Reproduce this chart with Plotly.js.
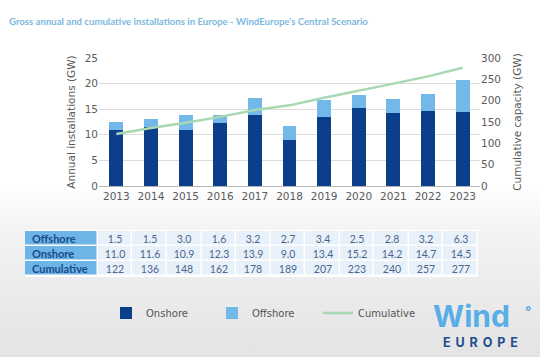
<!DOCTYPE html>
<html>
<head>
<meta charset="utf-8">
<script src="https://cdn.plot.ly/plotly-3.0.1.min.js"></script>
<style>
html,body{margin:0;padding:0;}
body{width:540px;height:357px;overflow:hidden;background:linear-gradient(to bottom,#ffffff 0%,#ffffff 52%,#f5f5f5 62%,#ececec 80%,#e4e4e4 100%);}
#chart{width:540px;height:357px;}
</style>
</head>
<body>
<div id="chart"></div>
<script>
const years = ['2013','2014','2015','2016','2017','2018','2019','2020','2021','2022','2023'];
const offshore = [1.5, 1.5, 3.0, 1.6, 3.2, 2.7, 3.4, 2.5, 2.8, 3.2, 6.3];
const onshore = [11.0, 11.6, 10.9, 12.3, 13.9, 9.0, 13.4, 15.2, 14.2, 14.7, 14.5];
const cumulative = [122, 136, 148, 162, 178, 189, 207, 223, 240, 257, 277];
const rowLabels = ['Offshore', 'Onshore', 'Cumulative'];

const W = 540, H = 357;
const px = v => v / W, py = v => 1 - v / H;

const cDark = '#0b3f8c', cLight = '#72b8e8', cLine = '#a8d8b2';
const labelFill = '#6db5e6', cellFill = '#e8f1fa';

// table grid built from the arrays
const labelW = 73, cellW = 34.6;
const colEdges = [0, labelW];
years.forEach((y, i) => colEdges.push(labelW + cellW * (i + 1)));
const rowStrings = [
  offshore.map(v => v.toFixed(1)),
  onshore.map(v => v.toFixed(1)),
  cumulative.map(v => String(v))
];
const tableZ = rowLabels.map(() => [1].concat(years.map(() => 0)));
const tableText = rowStrings.map(r => [''].concat(r));

const traces = [
  {type:'bar', name:'Onshore', x:years, y:onshore, marker:{color:cDark}, xaxis:'x', yaxis:'y'},
  {type:'bar', name:'Offshore', x:years, y:offshore, marker:{color:cLight}, xaxis:'x', yaxis:'y'},
  {type:'scatter', mode:'lines', name:'Cumulative', x:years, y:cumulative, line:{color:cLine, width:2.5}, xaxis:'x', yaxis:'y2'},
  {type:'heatmap', x:colEdges, y:rowLabels, z:tableZ, text:tableText, texttemplate:'%{text}',
   textfont:{family:'Lato, sans-serif', size:10.5, color:'#4a6690'},
   colorscale:[[0, cellFill],[1, labelFill]], zmin:0, zmax:1, showscale:false,
   xgap:1.5, ygap:1.5, xaxis:'x3', yaxis:'y3', showlegend:false, hoverinfo:'skip'}
];

const tickFont = {family:'DejaVu Sans, sans-serif', size:10.5, color:'#5a5a5a'};
const axTitleFont = {family:'DejaVu Sans, sans-serif', size:10.5, color:'#5a5a5a'};

const labelAnnotations = rowLabels.map(r => ({
  text:'<b>' + r + '</b>', x:5, y:r, xref:'x3', yref:'y3', xanchor:'left', yanchor:'middle', showarrow:false,
  font:{family:'Lato, sans-serif', size:11, color:'#1b4a8f'}
}));

const layout = {
  width:W, height:H,
  margin:{l:0, r:0, t:0, b:0},
  paper_bgcolor:'rgba(0,0,0,0)',
  plot_bgcolor:'#ffffff',
  barmode:'stack',
  bargap:0.6,
  title:{text:"<b>Gross annual and cumulative installations in Europe - WindEurope's Central Scenario</b>",
         x:px(9), xanchor:'left', y:py(22), yanchor:'middle', xref:'paper', yref:'paper',
         font:{family:'Lato, sans-serif', size:9.6, color:'#7ab9e0'}},
  xaxis:{domain:[px(99), px(480)], type:'category', tickfont:tickFont, showline:true, linecolor:'#b5b5b5', linewidth:1, ticks:'', fixedrange:true},
  yaxis:{domain:[py(186), py(58)], range:[0,25], dtick:5, tickfont:tickFont, gridcolor:'#dcdcdc', gridwidth:1, zeroline:false,
         title:{text:'Annual installations (GW)', font:axTitleFont, standoff:6}},
  yaxis2:{overlaying:'y', side:'right', range:[0,300], dtick:50, tickfont:tickFont, showgrid:false, zeroline:false,
          title:{text:'Cumulative capacity (GW)', font:axTitleFont, standoff:13}},
  xaxis3:{domain:[px(25), px(478)], anchor:'y3', range:[0, colEdges[colEdges.length-1]], visible:false, fixedrange:true},
  yaxis3:{domain:[py(277), py(230)], anchor:'x3', type:'category', autorange:'reversed', visible:false, fixedrange:true},
  showlegend:true,
  legend:{orientation:'h', x:px(106), xanchor:'left', y:py(313), yanchor:'middle', traceorder:'normal',
          entrywidth:61, entrywidthmode:'pixels',
          font:{family:'DejaVu Sans, sans-serif', size:10, color:'#555555'}, bgcolor:'rgba(0,0,0,0)'},
  annotations:labelAnnotations.concat([
    {text:'<b>Wind</b>', x:px(471), y:py(316), xref:'paper', yref:'paper', showarrow:false, xanchor:'center', yanchor:'middle',
     font:{family:'Inter, sans-serif', size:30, color:'#5aaee6', weight:900}},
    {text:'<b>°</b>', x:px(528), y:py(311), xref:'paper', yref:'paper', showarrow:false, xanchor:'center', yanchor:'middle',
     font:{family:'Inter, sans-serif', size:14, color:'#5aaee6'}},
    {text:'<b>E \u2009U \u2009R \u2009O \u2009P \u2009E</b>', x:px(480), y:py(342), xref:'paper', yref:'paper', showarrow:false, xanchor:'center', yanchor:'middle',
     font:{family:'Inter, sans-serif', size:12.5, color:'#1d4f91'}}
  ])
};

Plotly.newPlot('chart', traces, layout, {displayModeBar:false, staticPlot:true});
</script>
</body>
</html>
